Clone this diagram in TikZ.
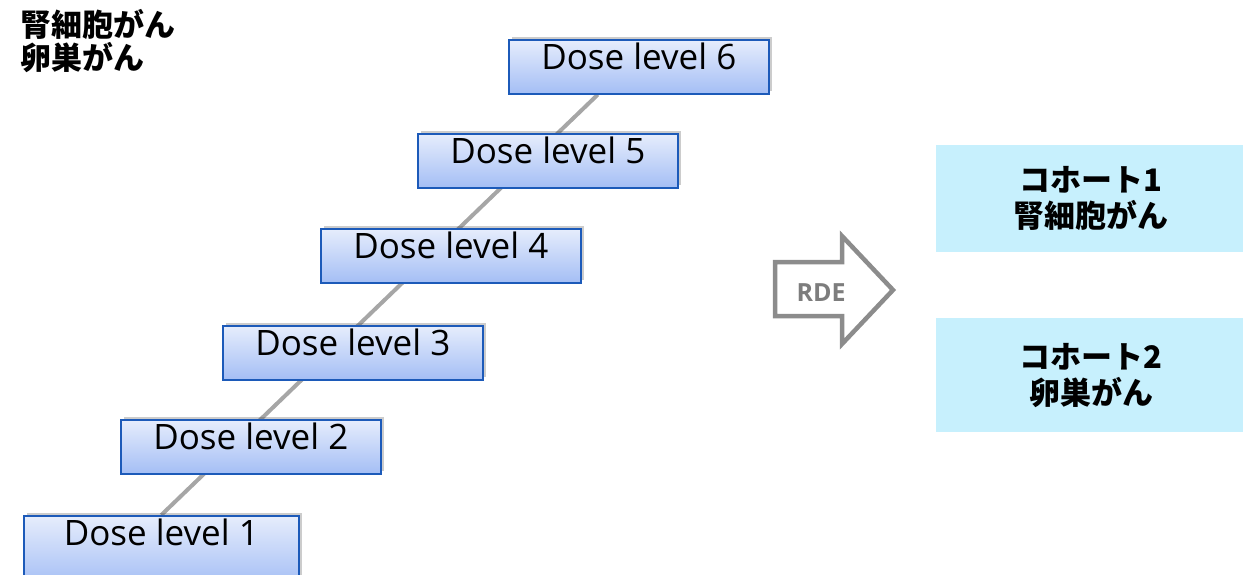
\documentclass[tikz,border=0pt]{standalone}
\usepackage{fontspec}
\setmainfont{Open Sans}
\newfontfamily\jp{Noto Sans CJK JP}
\usetikzlibrary{shadows,backgrounds,calc}
\definecolor{doseborder}{RGB}{28,90,185}
\definecolor{dosetop}{RGB}{230,237,252}
\definecolor{dosebot}{RGB}{164,190,245}
\definecolor{connc}{RGB}{166,166,166}
\definecolor{arrowc}{RGB}{140,140,140}
\definecolor{rdec}{RGB}{125,125,125}
\definecolor{cohortc}{RGB}{199,240,253}
\tikzset{
  dose/.style={draw=doseborder, line width=1.6pt, top color=dosetop, bottom color=dosebot,
    minimum width=260, inner xsep=0, inner ysep=0, text height=30, text depth=24,
    font=\fontsize{35}{40}\selectfont, anchor=north west,
    drop shadow={shadow xshift=3, shadow yshift=-3, opacity=0.25, fill=black!80}},
  conn/.style={draw=connc, line width=4pt},
  cohort/.style={fill=cohortc, anchor=north west, minimum width=310, inner sep=0,
    align=center, font=\jp\bfseries\fontsize{31}{36}\selectfont},
  jplabel/.style={anchor=north west, align=left, inner sep=0, font=\jp\bfseries\fontsize{31}{33}\selectfont},
  rdearrow/.style={draw=arrowc, line width=4.5pt, line join=miter, fill=white},
  rdetext/.style={text=rdec, font=\bfseries\fontsize{25}{30}\selectfont, inner sep=0}
}
\begin{document}
\begin{tikzpicture}[x=1pt,y=-1pt]
\useasboundingbox (0,0) rectangle (1243,574);
\clip (0,0) rectangle (1243,574);
% top-left label
\node[jplabel] (types) at (20,9) {腎細胞がん\\卵巣がん};
% dose levels
\node[dose] (dl6) at (508,39) {Dose level 6};
\node[dose] (dl5) at (417,133) {Dose level 5};
\node[dose] (dl4) at (320,228) {Dose level 4};
\node[dose] (dl3) at (222,325) {Dose level 3};
\node[dose] (dl2) at (120,419) {Dose level 2};
\node[dose, minimum width=275, text depth=40] (dl1) at (23,515) {Dose level 1};
\coordinate (lineend) at ($(dl6.south)+(-41,0)$);
\begin{pgfonlayer}{background}
\draw[conn] (dl1.north) -- (lineend);
\end{pgfonlayer}
% RDE arrow
\draw[rdearrow] (775,262) -- (842,262) -- (842,236) -- (893,290) -- (842,344) -- (842,316) -- (775,316) -- cycle;
\node[rdetext] (rde) at (821,293) {RDE};
% cohorts
\node[cohort, minimum height=107] (c1) at (936,145) {コホート1\\腎細胞がん};
\node[cohort, minimum height=114] (c2) at (936,318) {コホート2\\卵巣がん};
\end{tikzpicture}
\end{document}
